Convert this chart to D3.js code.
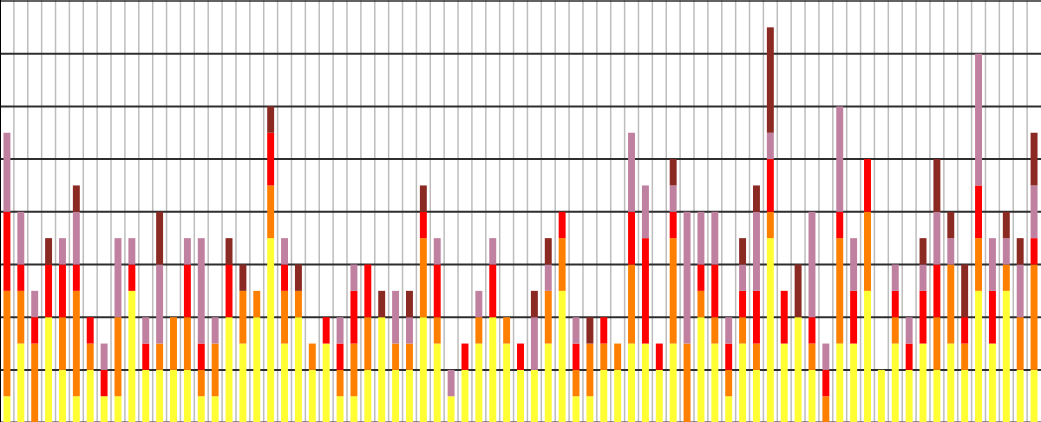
<!DOCTYPE html>
<html>
<head>
<meta charset="utf-8">
<script src="https://cdn.jsdelivr.net/npm/d3@7"></script>
<style>
  html, body { margin: 0; padding: 0; background: #fff; overflow: hidden; }
</style>
</head>
<body>
<svg id="chart" width="1041" height="422"></svg>
<script>
// stacked counts per column, bottom to top
const yellow = [1,3,0,4,2,1,2,1,1,5,2,2,2,2,1,1,4,3,4,7,3,4,2,3,1,1,2,4,2,2,4,3,1,2,3,4,3,2,2,3,5,1,1,2,2,3,3,2,3,0,4,3,1,3,2,7,3,4,2,0,3,3,5,2,3,2,3,2,3,2,5,3,5,2,2];
const orange = [4,2,3,0,2,4,1,0,3,0,0,1,2,2,1,2,0,2,1,2,2,1,1,0,1,2,2,0,1,1,3,1,0,0,1,0,1,0,0,2,2,1,2,1,1,3,0,0,4,3,1,1,1,1,1,1,0,0,1,1,4,0,3,0,1,0,0,2,3,1,2,0,1,2,4];
const red    = [3,1,1,2,2,1,1,1,0,1,1,0,0,2,1,0,2,0,0,2,1,0,0,1,1,2,2,0,0,0,1,2,0,1,0,2,0,1,0,0,1,1,0,1,0,2,4,1,1,0,1,2,1,1,2,2,2,0,1,1,1,2,2,0,1,1,2,2,0,1,2,2,0,0,1];
const pink   = [3,2,1,0,1,2,0,1,3,1,1,3,0,1,4,1,0,0,0,0,1,0,0,0,1,1,0,0,2,1,0,1,1,0,1,1,0,0,2,1,0,1,0,0,0,3,2,0,1,5,2,2,1,1,3,1,0,0,4,1,4,2,0,0,1,1,1,2,1,0,5,2,1,2,2];
const brown  = [0,0,0,1,0,1,0,0,0,0,0,2,0,0,0,0,1,1,0,1,0,1,0,0,0,0,0,1,0,1,1,0,0,0,0,0,0,0,1,1,0,0,1,0,0,0,0,0,1,0,0,0,0,1,1,4,0,2,0,0,0,0,0,0,0,0,1,2,1,2,0,0,1,1,2];
const yTicks = [0,2,4,6,8,10,12,14,16];

const keys = ["yellow","orange","red","pink","brown"];
const colors = { yellow: "#ffff33", orange: "#ff8000", red: "#ff0000", pink: "#c080a0", brown: "#8b2a22" };

const rows = yellow.map((d, i) => ({
  id: i, yellow: d, orange: orange[i], red: red[i], pink: pink[i], brown: brown[i]
}));

const svg = d3.select("#chart");
const width = 1041;

const x = d3.scaleBand()
  .domain(rows.map(d => d.id))
  .range([0, width])
  .paddingInner(0.5)
  .paddingOuter(0.25);

const y = d3.scaleLinear()
  .domain([0, 16])
  .range([422.6, 1]);

// vertical grid between columns
svg.append("g")
  .selectAll("line")
  .data(d3.range(1, rows.length))
  .join("line")
  .attr("x1", i => i * x.step())
  .attr("x2", i => i * x.step())
  .attr("y1", 0)
  .attr("y2", 422)
  .attr("stroke", "#bdbdbd")
  .attr("stroke-width", 1.5);

// horizontal grid
svg.append("g")
  .selectAll("line")
  .data(yTicks)
  .join("line")
  .attr("x1", 0)
  .attr("x2", width)
  .attr("y1", d => y(d))
  .attr("y2", d => y(d))
  .attr("stroke", "#2e2e2e")
  .attr("stroke-width", d => d === 16 ? 1.5 : 2);

// left frame
svg.append("line")
  .attr("x1", 0.5).attr("x2", 0.5)
  .attr("y1", 0).attr("y2", 422)
  .attr("stroke", "#000")
  .attr("stroke-width", 1);

const series = d3.stack().keys(keys)(rows);

svg.append("g")
  .selectAll("g")
  .data(series)
  .join("g")
  .attr("fill", s => colors[s.key])
  .selectAll("rect")
  .data(s => s.filter(d => d[1] > d[0]))
  .join("rect")
  .attr("x", d => x(d.data.id))
  .attr("width", x.bandwidth())
  .attr("y", d => y(d[1]))
  .attr("height", d => y(d[0]) - y(d[1]));
</script>
</body>
</html>
